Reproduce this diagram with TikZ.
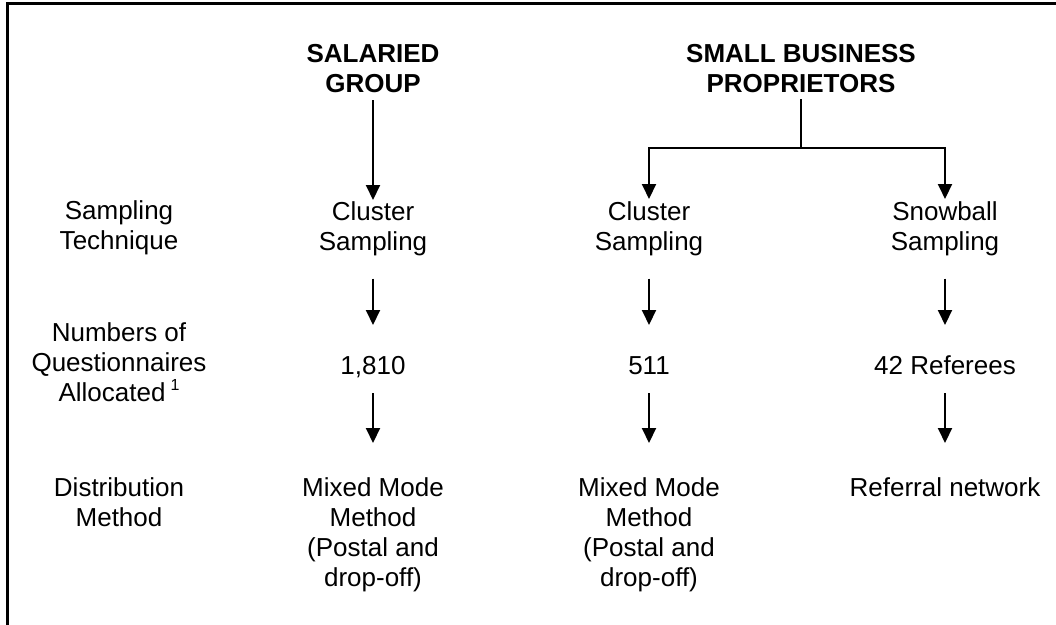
\documentclass[tikz,border=0pt]{standalone}
\usepackage{fontspec}
\setmainfont{Liberation Sans}
\usetikzlibrary{arrows.meta}
\begin{document}
\begin{tikzpicture}[x=1pt,y=-1pt,
  every node/.style={inner sep=0pt, outer sep=0pt, align=center,
    font=\fontsize{26}{30}\selectfont},
  txt/.style={anchor=north},
  hdr/.style={anchor=north, font=\fontsize{26}{30}\selectfont\bfseries},
  val/.style={anchor=base, text height=19pt, text depth=5pt},
  link/.style={line width=2pt},
  arr/.style={line width=2pt, -{Triangle[length=15pt,width=14pt]}},
  frame/.style={line width=2.5pt}]
\useasboundingbox (0,0) rectangle (1056,624);

% open frame: top and left edges
\draw[frame] (1070,3.7) -- (7.5,3.7) -- (7.5,640);

% group headings
\node[hdr] (sal) at (373,44.5) {SALARIED\\GROUP};
\node[hdr] (sbp) at (801,44.5) {SMALL BUSINESS\\PROPRIETORS};

% row labels
\node[txt] (lab1) at (119,201) {Sampling\\Technique};
\node[txt] (lab2) at (119,323) {Numbers of\\Questionnaires\\Allocated\hspace{5pt}{\fontsize{16}{16}\selectfont\raisebox{11pt}{1}}};
\node[txt] (lab3) at (119,478) {Distribution\\Method};

% sampling technique
\node[txt] (cl1) at (373,202) {Cluster\\Sampling};
\node[txt] (cl2) at (649,202) {Cluster\\Sampling};
\node[txt] (sb)  at (945,202) {Snowball\\Sampling};

% questionnaires allocated
\node[val] (v1) at (373,374) {1,810};
\node[val] (v2) at (649,374) {511};
\node[val] (v3) at (945,374) {42 Referees};

% distribution method
\node[txt] (mm1) at (373,478) {Mixed Mode\\Method\\(Postal and\\drop-off)};
\node[txt] (mm2) at (649,478) {Mixed Mode\\Method\\(Postal and\\drop-off)};
\node[txt] (rn)  at (945,478) {Referral network};

% salaried branch
\draw[arr, shorten <=7.5pt, shorten >=2pt] (sal) -- (cl1);

% proprietors split into two branches
\coordinate (split) at (801,148);
\draw[link, shorten <=6.5pt] (sbp) -- (split);
\draw[arr, shorten >=3pt] (split) -| (cl2);
\draw[arr, shorten >=3pt] (split) -| (sb);

% technique to allocation
\draw[arr, shorten <=22.5pt, shorten >=30pt] (cl1) -- (v1);
\draw[arr, shorten <=22.5pt, shorten >=30pt] (cl2) -- (v2);
\draw[arr, shorten <=22.5pt, shorten >=30pt] (sb) -- (v3);

% allocation to distribution
\draw[arr, shorten <=14pt, shorten >=35pt] (v1) -- (mm1);
\draw[arr, shorten <=14pt, shorten >=35pt] (v2) -- (mm2);
\draw[arr, shorten <=14pt, shorten >=35pt] (v3) -- (rn);
\end{tikzpicture}
\end{document}
